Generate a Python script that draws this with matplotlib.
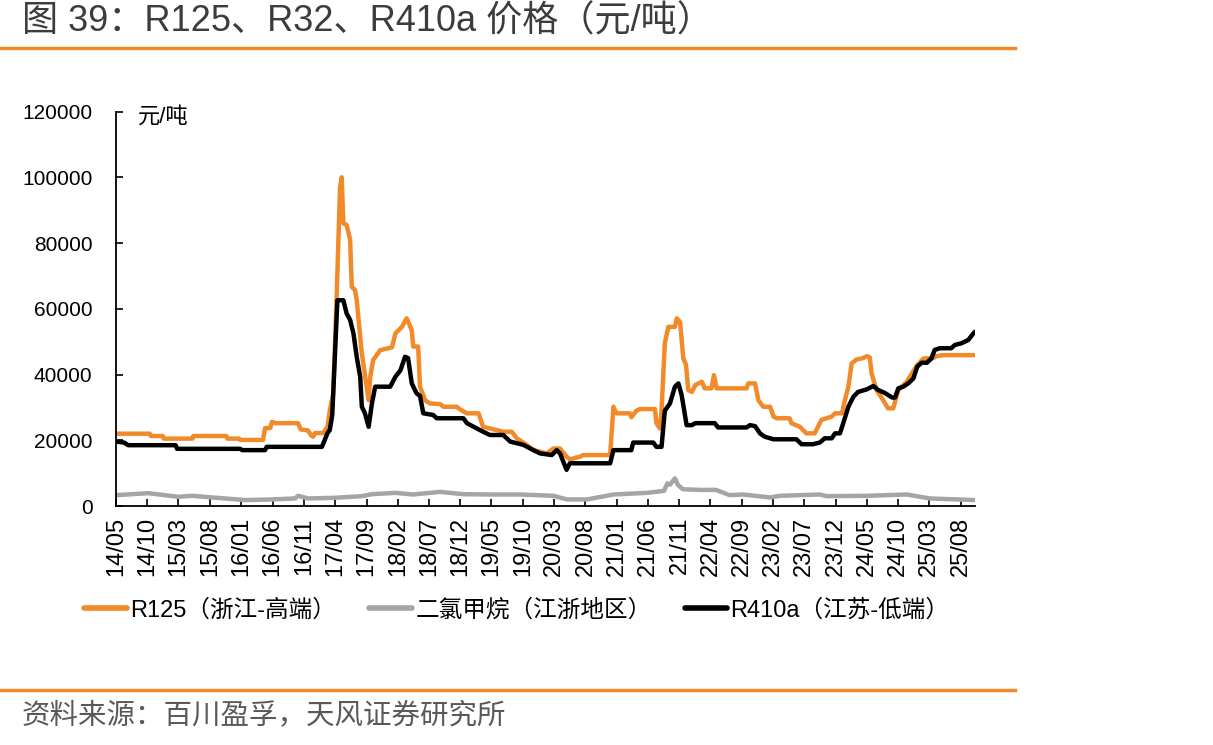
import matplotlib
matplotlib.use("Agg")
import matplotlib.pyplot as plt
import pandas as pd

# R125 (浙江-高端), 元/吨
r125_dates = [
    "2014-05-01", "2014-10-12", "2014-10-18", "2014-12-15", "2014-12-20", "2015-05-08",
    "2015-05-12", "2015-10-20", "2015-10-25", "2015-12-20", "2015-12-26", "2016-04-15",
    "2016-04-25", "2016-05-20", "2016-05-29", "2016-06-15", "2016-10-03", "2016-10-15",
    "2016-11-20", "2016-12-05", "2016-12-15", "2016-12-25", "2017-02-03", "2017-02-23",
    "2017-03-06", "2017-03-23", "2017-04-09", "2017-04-25", "2017-05-03", "2017-05-11",
    "2017-05-27", "2017-06-13", "2017-06-21", "2017-07-07", "2017-07-15", "2017-08-09",
    "2017-09-11", "2017-09-19", "2017-10-03", "2017-11-06", "2018-01-03", "2018-01-19",
    "2018-02-20", "2018-03-15", "2018-04-09", "2018-04-16", "2018-05-10", "2018-05-19",
    "2018-06-13", "2018-07-06", "2018-08-25", "2018-09-10", "2018-11-15", "2018-11-22",
    "2019-01-02", "2019-02-28", "2019-03-22", "2019-06-28", "2019-08-08", "2019-09-02",
    "2019-10-20", "2019-11-21", "2020-01-26", "2020-02-27", "2020-03-30", "2020-05-01",
    "2020-05-17", "2020-07-05", "2020-07-21", "2020-11-29", "2020-12-15", "2020-12-23",
    "2021-01-01", "2021-03-05", "2021-03-12", "2021-04-06", "2021-04-23", "2021-07-05",
    "2021-07-12", "2021-07-29", "2021-08-06", "2021-08-22", "2021-09-08", "2021-10-10",
    "2021-10-19", "2021-11-04", "2021-11-20", "2021-12-03", "2021-12-14", "2022-01-01",
    "2022-01-17", "2022-02-18", "2022-03-04", "2022-04-06", "2022-04-18", "2022-05-01",
    "2022-09-24", "2022-10-02", "2022-11-04", "2022-11-20", "2022-12-14", "2023-01-16",
    "2023-02-02", "2023-02-18", "2023-04-21", "2023-04-30", "2023-06-10", "2023-07-12",
    "2023-08-21", "2023-09-23", "2023-11-12", "2023-11-28", "2024-01-01", "2024-01-15",
    "2024-02-01", "2024-02-17", "2024-03-12", "2024-04-13", "2024-05-01", "2024-05-15",
    "2024-05-24", "2024-06-17", "2024-07-19", "2024-08-12", "2024-09-06", "2024-10-01",
    "2024-11-11", "2025-01-01", "2025-02-01", "2025-03-19", "2025-04-05", "2025-05-06",
    "2025-10-09",
]
r125_vals = [
    22000, 22000, 21300, 21300, 20500, 20500,
    21300, 21300, 20500, 20500, 20100, 20100,
    23700, 23700, 25600, 25200, 25200, 23300,
    23000, 21500, 21100, 22200, 22200, 24100,
    29000, 34200, 64700, 97000, 100000, 86000,
    85500, 81000, 66700, 65700, 62700, 46400,
    32200, 39300, 44400, 47400, 48300, 52500,
    54500, 57100, 53500, 48500, 48500, 36300,
    32200, 31200, 31000, 30200, 30200, 29700,
    28200, 28200, 24100, 22600, 22600, 20600,
    18600, 17000, 16000, 17500, 17500, 15000,
    14200, 15000, 15500, 15500, 30200, 29000,
    28200, 28200, 27000, 29000, 29500, 29500,
    25200, 23600, 29000, 49500, 54500, 54500,
    57100, 56000, 44900, 43000, 35300, 34700,
    36800, 37800, 35800, 35800, 39800, 35800,
    35800, 37300, 37300, 32200, 30200, 30200,
    27200, 26700, 26700, 25200, 24100, 22100,
    22100, 26200, 27200, 28200, 28200, 32200,
    36300, 43400, 44600, 45000, 45600, 45200,
    40300, 35300, 32200, 29700, 29700, 35300,
    37800, 42900, 44900, 45000, 45600, 45900,
    45900,
]

# 二氯甲烷 (江浙地区)
dcm_dates = [
    "2014-05-01", "2014-10-05", "2015-02-28", "2015-05-06", "2015-08-12", "2016-01-21",
    "2016-05-29", "2016-09-18", "2016-10-03", "2016-11-21", "2017-04-01", "2017-08-10",
    "2017-09-28", "2018-01-19", "2018-04-15", "2018-08-25", "2018-12-15", "2019-04-24",
    "2019-09-18", "2020-02-27", "2020-05-03", "2020-08-09", "2020-12-15", "2021-05-27",
    "2021-08-18", "2021-09-03", "2021-09-16", "2021-10-10", "2021-10-25", "2021-11-18",
    "2022-02-12", "2022-04-28", "2022-07-03", "2022-09-06", "2023-01-16", "2023-03-04",
    "2023-09-15", "2023-10-18", "2024-05-01", "2024-11-11", "2025-03-03", "2025-10-09",
]
dcm_vals = [
    3300, 3900, 2800, 3100, 2600, 1800,
    2000, 2300, 3100, 2300, 2500, 3000,
    3600, 4000, 3500, 4300, 3600, 3500,
    3500, 3100, 2000, 2000, 3500, 4000,
    4600, 6900, 6500, 8400, 6400, 5100,
    4900, 4900, 3300, 3500, 2600, 3100,
    3500, 3000, 3100, 3500, 2300, 1800,
]

# R410a (江苏-低端)
r410a_dates = [
    "2014-05-01", "2014-06-10", "2014-06-29", "2015-02-15", "2015-02-22", "2015-12-26",
    "2016-01-05", "2016-04-25", "2016-05-03", "2017-01-27", "2017-02-23", "2017-03-06",
    "2017-03-18", "2017-04-12", "2017-05-11", "2017-05-27", "2017-06-13", "2017-06-29",
    "2017-07-15", "2017-08-01", "2017-08-09", "2017-08-24", "2017-09-11", "2017-09-27",
    "2017-10-13", "2017-12-25", "2018-01-19", "2018-02-13", "2018-03-07", "2018-03-22",
    "2018-04-09", "2018-05-02", "2018-05-19", "2018-06-04", "2018-07-22", "2018-08-08",
    "2018-12-16", "2019-01-02", "2019-02-04", "2019-03-22", "2019-04-24", "2019-06-28",
    "2019-08-01", "2019-10-04", "2019-11-06", "2019-12-24", "2020-02-19", "2020-03-14",
    "2020-03-30", "2020-04-15", "2020-05-01", "2020-05-17", "2020-11-29", "2020-12-15",
    "2021-03-12", "2021-03-21", "2021-06-27", "2021-07-12", "2021-08-06", "2021-08-22",
    "2021-09-16", "2021-10-10", "2021-10-27", "2021-11-12", "2021-12-06", "2022-01-01",
    "2022-01-17", "2022-04-22", "2022-05-08", "2022-09-24", "2022-10-10", "2022-11-04",
    "2022-11-28", "2022-12-20", "2023-02-02", "2023-05-24", "2023-06-18", "2023-08-13",
    "2023-09-15", "2023-10-09", "2023-11-12", "2023-11-28", "2023-12-22", "2024-01-07",
    "2024-02-01", "2024-02-25", "2024-03-19", "2024-05-01", "2024-06-01", "2024-06-25",
    "2024-07-27", "2024-09-01", "2024-09-15", "2024-10-01", "2024-10-25", "2024-11-18",
    "2024-12-13", "2025-01-01", "2025-01-23", "2025-02-17", "2025-03-11", "2025-03-27",
    "2025-04-21", "2025-06-15", "2025-07-03", "2025-08-04", "2025-09-06", "2025-10-01",
    "2025-10-09",
]
r410a_vals = [
    19600, 19300, 18500, 18500, 17400, 17400,
    17000, 17000, 18000, 18000, 22200, 23100,
    27700, 62600, 62600, 58600, 56600, 52600,
    45400, 39300, 30200, 28200, 24100, 31200,
    36300, 36300, 39300, 41300, 45400, 45000,
    37300, 34300, 33500, 28200, 27700, 26700,
    26700, 25200, 24100, 22600, 21600, 21600,
    19600, 18600, 17500, 16000, 15500, 17000,
    16000, 13500, 11000, 13000, 13000, 17000,
    17000, 19300, 19300, 18000, 18000, 29000,
    31200, 36300, 37300, 33700, 24600, 24600,
    25200, 25200, 23900, 23900, 24600, 24300,
    22100, 21100, 20300, 20300, 18800, 18800,
    19300, 20600, 20600, 22100, 22100, 25200,
    30200, 33200, 34700, 35500, 36500, 35300,
    34400, 33000, 33000, 35800, 36300, 37300,
    38800, 42400, 43600, 43600, 44900, 47500,
    48000, 48000, 49000, 49500, 50500, 52500,
    53000,
]

tick_labels = [
    "14/05", "14/10", "15/03", "15/08", "16/01", "16/06", "16/11", "17/04", "17/09",
    "18/02", "18/07", "18/12", "19/05", "19/10", "20/03", "20/08", "21/01", "21/06",
    "21/11", "22/04", "22/09", "23/02", "23/07", "23/12", "24/05", "24/10", "25/03",
    "25/08",
]
y_ticks = [0, 20000, 40000, 60000, 80000, 100000, 120000]

series_names = ["R125（浙江-高端）", "二氯甲烷（江浙地区）", "R410a（江苏-低端）"]
colors = ["#F28A2A", "#A5A5A5", "#000000"]

cjk = "Noto Sans CJK SC"
plt.rcParams["font.family"] = ["Liberation Sans", cjk, "DejaVu Sans"]

W, H = 1213, 745
fig = plt.figure(figsize=(W / 100, H / 100), dpi=100)
ax = fig.add_axes([116 / W, 1 - 506 / H, (975 - 116) / W, (506 - 111.6) / H])

data = [(r125_dates, r125_vals), (dcm_dates, dcm_vals), (r410a_dates, r410a_vals)]
for (d, v), c, n in zip(data, colors, series_names):
    ax.plot(pd.to_datetime(d), v, color=c, lw=3.2, label=n,
            solid_joinstyle="round", solid_capstyle="round")

ax.set_xlim(pd.Timestamp("2014-05-01"), pd.Timestamp("2025-10-09"))
ax.set_ylim(0, 120000)

tick_pos = pd.to_datetime(["20" + t for t in tick_labels], format="%Y/%m")
ax.set_xticks(tick_pos)
ax.set_xticklabels(tick_labels, rotation=90, fontsize=17)
ax.set_yticks(y_ticks)
ax.set_yticklabels([str(v) for v in y_ticks], fontsize=15)
ax.tick_params(axis="x", direction="in", length=5, width=1.2, pad=8, colors="#000000")
ax.tick_params(axis="y", direction="in", length=5, width=1.2, pad=17, colors="#000000")

for s in ["top", "right"]:
    ax.spines[s].set_visible(False)
for s in ["left", "bottom"]:
    ax.spines[s].set_linewidth(1.3)
    ax.spines[s].set_color("#000000")

fig.text(138 / W, 1 - 117 / H, "元/吨", fontsize=16, va="center", ha="left", color="#000000")

fig.text(22 / W, 1 - 22 / H, "图 39：R125、R32、R410a 价格（元/吨）", fontsize=26,
         va="center", ha="left", color="#3C3C3C")
fig.add_artist(plt.Line2D([0, 1015 / W], [1 - 48 / H, 1 - 48 / H], color="#F28A2A", lw=2.5))
fig.add_artist(plt.Line2D([0, 1015 / W], [1 - 690 / H, 1 - 690 / H], color="#F28A2A", lw=2.5))
fig.text(22 / W, 1 - 716 / H, "资料来源：百川盈孚，天风证券研究所", fontsize=20.5,
         va="center", ha="left", color="#595959")

leg = fig.legend(loc="center left", bbox_to_anchor=(63 / W, 1 - 610 / H), ncol=3, frameon=False,
                 fontsize=17, handlelength=1.8, handletextpad=0.15, columnspacing=1.4)
for line in leg.get_lines():
    line.set_linewidth(4)

fig.savefig("out.png", dpi=100)
